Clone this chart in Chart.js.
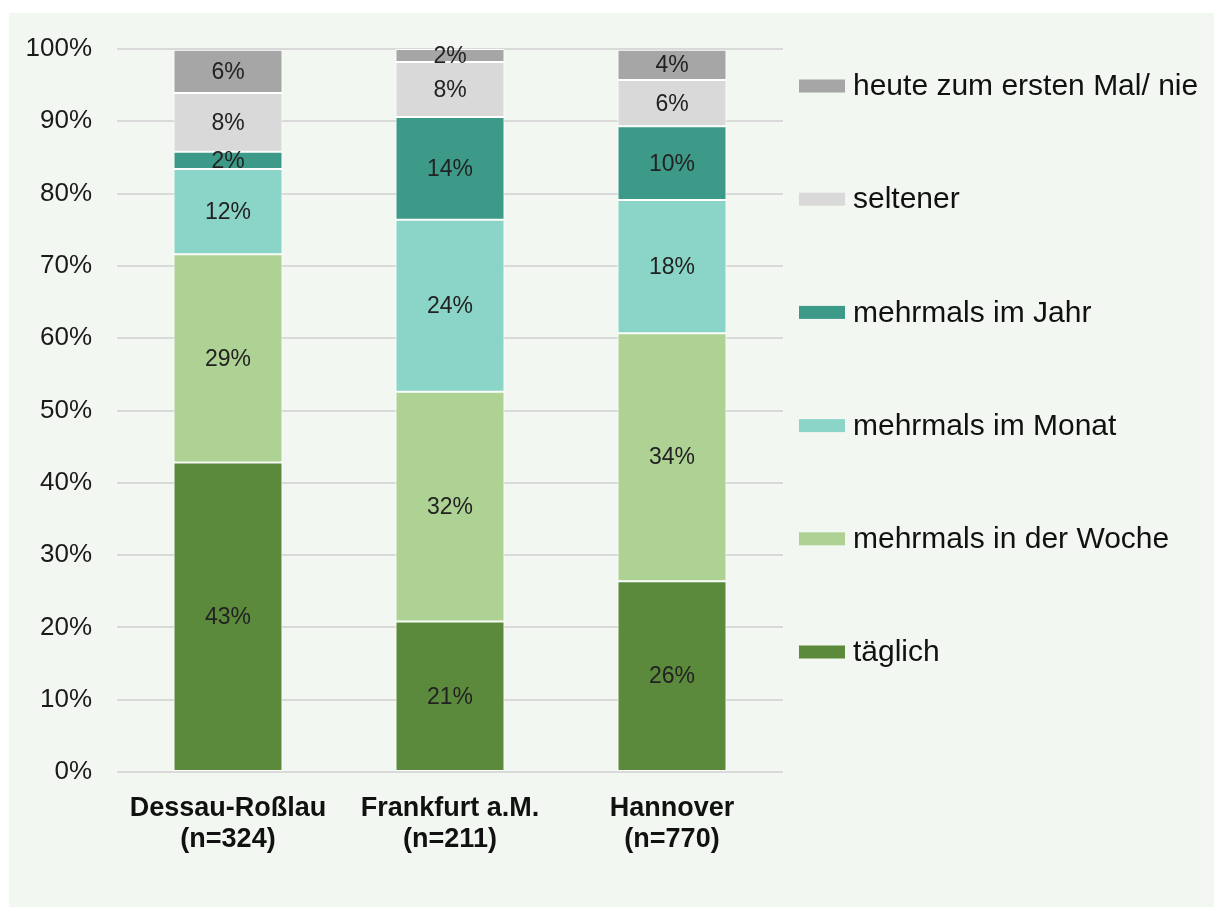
<!DOCTYPE html>
<html lang="de">
<head>
<meta charset="utf-8">
<title>Nutzungshäufigkeit</title>
<script src="https://cdn.jsdelivr.net/npm/chart.js@4/dist/chart.umd.min.js"></script>
<style>
  html, body { margin: 0; padding: 0; background: #ffffff; }
  #panel {
    position: absolute; left: 9px; top: 13px;
    width: 1205px; height: 894px;
    background: #f3f7f1;
  }
  #panel canvas { display: block; }
</style>
</head>
<body>
<div id="panel"><canvas id="chart"></canvas></div>
<script>
// Städte (Kategorien) mit Stichprobengröße
const categories = [
  ['Dessau-Roßlau', '(n=324)'],
  ['Frankfurt a.M.', '(n=211)'],
  ['Hannover', '(n=770)']
];

// Anteile in Prozent je Häufigkeitsstufe
const taeglich      = [42.8, 20.8, 26.4];
const wocheMehrmals = [28.8, 31.8, 34.3];
const monatMehrmals = [11.8, 23.8, 18.4];
const jahrMehrmals  = [2.4, 14.2, 10.2];
const seltener      = [8.1, 7.6, 6.4];
const ersteMalNie   = [6.0, 1.8, 4.2];

const seriesLabels = [
  'täglich',
  'mehrmals in der Woche',
  'mehrmals im Monat',
  'mehrmals im Jahr',
  'seltener',
  'heute zum ersten Mal/ nie'
];
const seriesColors = ['#5c8a3c', '#aed293', '#8ad5c7', '#3e9a88', '#d9d9d9', '#a6a6a6'];
const seriesValues = [taeglich, wocheMehrmals, monatMehrmals, jahrMehrmals, seltener, ersteMalNie];

const yTicks = [0, 10, 20, 30, 40, 50, 60, 70, 80, 90, 100];

const FONT = '"Liberation Sans", Arial, sans-serif';

// Prozentwerte mittig in jedes Segment schreiben
const segmentLabels = {
  id: 'segmentLabels',
  afterDatasetsDraw(chart) {
    const ctx = chart.ctx;
    ctx.save();
    ctx.font = '23px ' + FONT;
    ctx.fillStyle = '#222222';
    ctx.textAlign = 'center';
    ctx.textBaseline = 'middle';
    chart.data.datasets.forEach((ds, di) => {
      const meta = chart.getDatasetMeta(di);
      meta.data.forEach((bar, i) => {
        const v = ds.data[i];
        const y = (bar.y + bar.base) / 2;
        ctx.fillText(Math.round(v) + '%', bar.x, y + 1);
      });
    });
    ctx.restore();
  }
};

// Legende rechts neben dem Diagramm, oberste Stufe zuerst
const sideLegend = {
  id: 'sideLegend',
  afterDraw(chart) {
    const ctx = chart.ctx;
    const area = chart.chartArea;
    const boxX = area.right + 16;
    const step = 113.2;
    const firstY = area.top + 37;
    ctx.save();
    ctx.font = '30px ' + FONT;
    ctx.textAlign = 'left';
    ctx.textBaseline = 'middle';
    const ds = chart.data.datasets.slice().reverse();
    ds.forEach((d, i) => {
      const cy = firstY + i * step;
      ctx.fillStyle = d.backgroundColor;
      ctx.fillRect(boxX, cy - 6.5, 46, 13);
      ctx.fillStyle = '#111111';
      ctx.fillText(d.label, boxX + 54, cy + 1);
    });
    ctx.restore();
  }
};

const datasets = seriesLabels.map((label, i) => ({
  label: label,
  data: seriesValues[i],
  backgroundColor: seriesColors[i],
  borderColor: '#ffffff',
  borderWidth: 1,
  borderSkipped: false,
  barPercentage: 0.491,
  categoryPercentage: 1.0
}));

new Chart(document.getElementById('chart'), {
  type: 'bar',
  data: { labels: categories, datasets: datasets },
  options: {
    responsive: true,
    maintainAspectRatio: false,
    animation: false,
    layout: { padding: { left: 0, top: 36, right: 431, bottom: 0 } },
    plugins: {
      legend: { display: false },
      tooltip: { enabled: false }
    },
    scales: {
      x: {
        stacked: true,
        grid: { display: false },
        border: { display: false },
        ticks: {
          color: '#111111',
          padding: 13,
          font: { family: FONT, size: 27, weight: 'bold', lineHeight: 1.15 }
        },
        afterFit(scale) { scale.height = 135; }
      },
      y: {
        stacked: true,
        min: 0,
        max: 100,
        afterBuildTicks(scale) { scale.ticks = yTicks.map(v => ({ value: v })); },
        grid: { color: '#d9d9d9', lineWidth: 2, drawTicks: false },
        border: { display: false },
        ticks: {
          color: '#1a1a1a',
          padding: 25,
          font: { family: FONT, size: 26 },
          callback: v => v + '%'
        },
        afterFit(scale) {
          scale.width = 108;
          scale.paddingTop = 0;
          scale.paddingBottom = 0;
        }
      }
    }
  },
  plugins: [segmentLabels, sideLegend]
});
</script>
</body>
</html>
